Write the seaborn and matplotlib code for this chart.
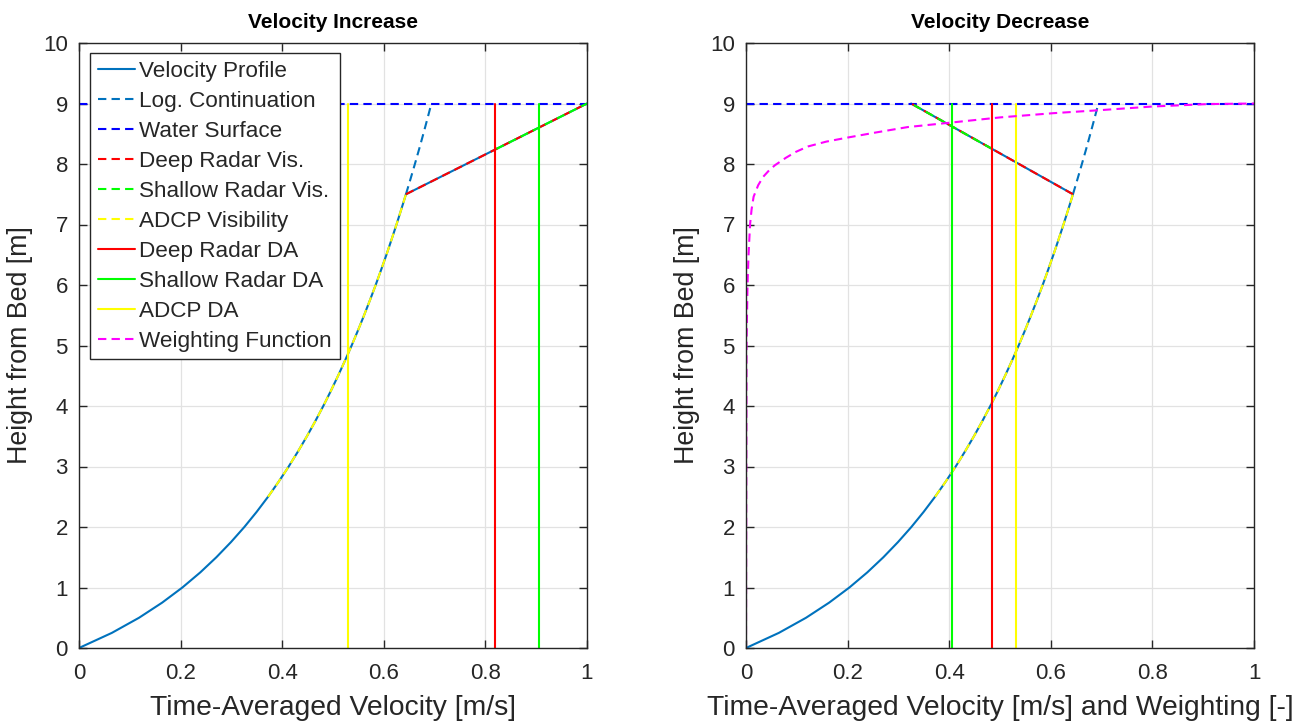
import numpy as np
import pandas as pd
import matplotlib
matplotlib.use("Agg")
import matplotlib.pyplot as plt
import seaborn as sns

# ---------------- data ----------------
profile_height = [0, 0.25, 0.5, 0.75, 1.0, 1.25, 1.5, 1.75, 2.0, 2.25, 2.5, 2.75, 3.0,
                  3.25, 3.5, 3.75, 4.0, 4.25, 4.5, 4.75, 5.0, 5.25, 5.5, 5.75, 6.0,
                  6.25, 6.5, 6.75, 7.0, 7.25, 7.5]
profile_velocity = [0.0, 0.0647, 0.1182, 0.1637, 0.2035, 0.2388, 0.2704, 0.2991, 0.3255,
                    0.3497, 0.3722, 0.3931, 0.4128, 0.4312, 0.4487, 0.4652, 0.4809,
                    0.4958, 0.5100, 0.5236, 0.5367, 0.5492, 0.5612, 0.5728, 0.5840,
                    0.5947, 0.6052, 0.6152, 0.6250, 0.6344, 0.6436]

logcont_height = [7.5, 7.75, 8.0, 8.25, 8.5, 8.75, 9.0]
logcont_velocity = [0.6436, 0.6525, 0.6612, 0.6697, 0.6779, 0.6859, 0.6937]

radar_height = [7.5, 8.25, 9.0]
radar_velocity_increase = [0.6436, 0.8218, 1.0]
radar_velocity_decrease = [0.6436, 0.4843, 0.325]

water_surface = 9.0
adcp_range = [2.5, 7.5]

da_increase = {"deep": 0.818, "shallow": 0.906, "adcp": 0.529}
da_decrease = {"deep": 0.485, "shallow": 0.405, "adcp": 0.531}

weight_height = [0.0, 5.0, 6.0, 6.5, 7.0, 7.25, 7.46, 7.65, 7.79, 7.9, 7.98, 8.1, 8.2,
                 8.29, 8.37, 8.44, 8.52, 8.61, 8.68, 8.77, 8.84, 8.89, 8.95, 8.99, 9.0]
weight_value = [0.0, 0.001, 0.003, 0.005, 0.008, 0.011, 0.015, 0.024, 0.034, 0.046,
                0.057, 0.078, 0.098, 0.122, 0.158, 0.202, 0.255, 0.318, 0.398, 0.50,
                0.605, 0.697, 0.80, 0.907, 1.0]

# ---------------- style ----------------
sns.set_theme(style="whitegrid")
plt.rcParams["font.family"] = ["Liberation Sans", "DejaVu Sans"]

C_PROF = "#0072BD"
C_WS = "#0000FF"
C_RED = "#FF0000"
C_GRN = "#00FF00"
C_YEL = "#FFFF00"
C_MAG = "#FF00FF"
LW = 1.5
DASH = (4, 2.5)

fig = plt.figure(figsize=(13.06, 7.26), dpi=100)
W, H = 1306, 726
axL = fig.add_axes([79 / W, 1 - 648 / H, 508 / W, 605 / H])
axR = fig.add_axes([746 / W, 1 - 648 / H, 508 / W, 605 / H])

prof = pd.DataFrame({"v": profile_velocity, "z": profile_height})
logc = pd.DataFrame({"v": logcont_velocity, "z": logcont_height})
adcp = prof[(prof.z >= adcp_range[0]) & (prof.z <= adcp_range[1])]


def draw(ax, radar_v, da, weighting, title, xlabel):
    rv = pd.DataFrame({"v": radar_v, "z": radar_height})
    full = pd.concat([prof, rv.iloc[1:]], ignore_index=True)
    kw = dict(x="v", y="z", sort=False, estimator=None, ax=ax, lw=LW)
    sns.lineplot(data=full, color=C_PROF, label="Velocity Profile", **kw)
    sns.lineplot(data=logc, color=C_PROF, label="Log. Continuation",
                 **kw).lines[-1].set_dashes(DASH)
    ln, = ax.plot([0, 1], [water_surface, water_surface], color=C_WS, lw=LW,
                  label="Water Surface")
    ln.set_dashes(DASH)
    ln, = ax.plot(rv.v, rv.z, color=C_RED, lw=LW, label="Deep Radar Vis.")
    ln.set_dashes(DASH)
    ln, = ax.plot(rv.v[1:], rv.z[1:], color=C_GRN, lw=LW, label="Shallow Radar Vis.")
    ln.set_dashes(DASH)
    ln, = ax.plot(adcp.v, adcp.z, color=C_YEL, lw=LW, label="ADCP Visibility")
    ln.set_dashes(DASH)
    ax.plot([da["deep"]] * 2, [0, water_surface], color=C_RED, lw=LW, label="Deep Radar DA")
    ax.plot([da["shallow"]] * 2, [0, water_surface], color=C_GRN, lw=LW,
            label="Shallow Radar DA")
    ax.plot([da["adcp"]] * 2, [0, water_surface], color=C_YEL, lw=LW, label="ADCP DA")
    if weighting:
        ln, = ax.plot(weight_value, weight_height, color=C_MAG, lw=LW,
                      label="Weighting Function")
    else:
        ln, = ax.plot([], [], color=C_MAG, lw=LW, label="Weighting Function")
    ln.set_dashes(DASH)

    ax.set_xlim(0, 1)
    ax.set_ylim(0, 10)
    ax.set_xticks(np.arange(0, 1.01, 0.2))
    ax.set_xticklabels(["0", "0.2", "0.4", "0.6", "0.8", "1"])
    ax.set_yticks(range(0, 11))
    ax.tick_params(direction="in", length=6, width=1, colors="#262626", labelsize=16,
                   top=True, right=True, bottom=True, left=True)
    ax.tick_params(axis="x", pad=11)
    ax.tick_params(axis="y", pad=8)
    for lab in ax.get_xticklabels() + ax.get_yticklabels():
        lab.set_color("#262626")
    ax.grid(True, color="#E2E2E2", lw=0.9)
    for s in ax.spines.values():
        s.set_color("#262626")
        s.set_linewidth(1)
    ax.set_title(title, fontsize=15, fontweight="bold", pad=11, color="black")
    ax.set_xlabel(xlabel, fontsize=20.3, color="#262626", labelpad=8)
    ax.set_ylabel("Height from Bed [m]", fontsize=19.3, color="#262626", labelpad=7)
    ax.set_facecolor("white")


draw(axL, radar_velocity_increase, da_increase, False, "Velocity Increase",
     "Time-Averaged Velocity [m/s]")
draw(axR, radar_velocity_decrease, da_decrease, True, "Velocity Decrease",
     "Time-Averaged Velocity [m/s] and Weighting [-]")

if axR.get_legend():
    axR.get_legend().remove()
h, l = axL.get_legend_handles_labels()
leg = axL.legend(h, l, loc="upper left", bbox_to_anchor=(0.021, 0.984), fontsize=16.2,
                 frameon=True, fancybox=False, framealpha=1, edgecolor="#262626",
                 handlelength=1.65, handletextpad=0.2, borderpad=0.35, labelspacing=0.40,
                 borderaxespad=0)
leg.get_frame().set_linewidth(1)

fig.savefig("out.png", dpi=100, facecolor="white")
